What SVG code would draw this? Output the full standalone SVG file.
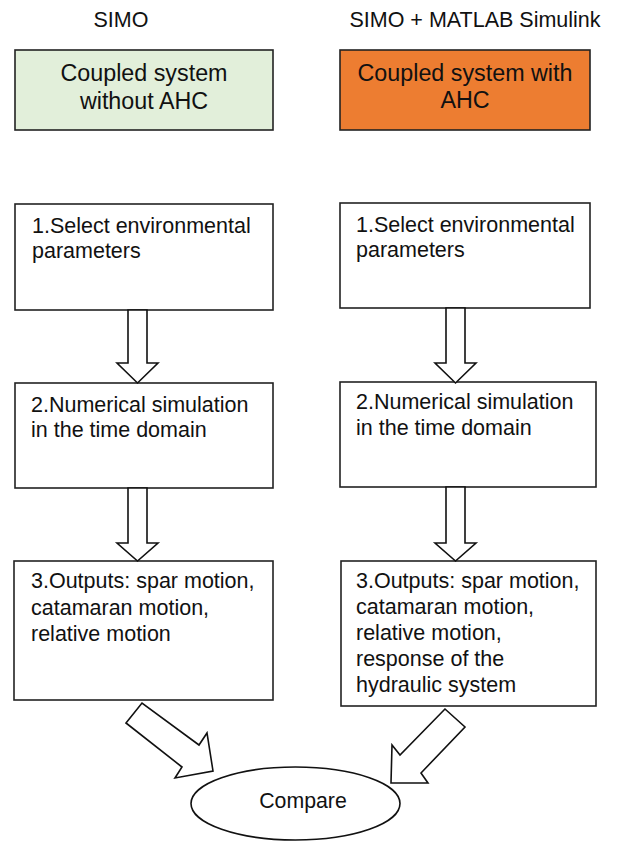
<svg xmlns="http://www.w3.org/2000/svg" width="624" height="842" viewBox="0 0 624 842">
<style>
text{font-family:"Liberation Sans",Arial,sans-serif;fill:#111;}
.hd{font-size:21.5px;text-anchor:middle;}
.ht{font-size:23.3px;text-anchor:middle;}
.bt{font-size:21.5px;}
.box{fill:#fff;stroke:#222;stroke-width:1.6;}
.arr{fill:#fff;stroke:#111;stroke-width:1.6;stroke-linejoin:miter;}
</style>
<rect width="624" height="842" fill="#fff"/>
<text class="hd" x="121" y="27">SIMO</text>
<text class="hd" x="475" y="27">SIMO + MATLAB Simulink</text>
<g id="hdr-left">
<rect x="15" y="50" width="258" height="80" fill="#E2EFDA" stroke="#222" stroke-width="1.6"/>
<text class="ht" x="144" y="81">Coupled system</text>
<text class="ht" x="144" y="109">without AHC</text>
</g>
<g id="hdr-right">
<rect x="340" y="50" width="250" height="80" fill="#ED7D31" stroke="#222" stroke-width="1.6"/>
<text class="ht" x="465" y="81">Coupled system with</text>
<text class="ht" x="465" y="108">AHC</text>
</g>
<g id="l1">
<rect class="box" x="15" y="204" width="258" height="106"/>
<text class="bt" x="32" y="233">1.Select environmental</text>
<text class="bt" x="32" y="258">parameters</text>
</g>
<g id="r1">
<rect class="box" x="340" y="203" width="250" height="105"/>
<text class="bt" x="356" y="232">1.Select environmental</text>
<text class="bt" x="356" y="257">parameters</text>
</g>
<g id="l2">
<rect class="box" x="15" y="383" width="258" height="105"/>
<text class="bt" x="31" y="412">2.Numerical simulation</text>
<text class="bt" x="31" y="437">in the time domain</text>
</g>
<g id="r2">
<rect class="box" x="340" y="382" width="256" height="105"/>
<text class="bt" x="356" y="409">2.Numerical simulation</text>
<text class="bt" x="356" y="435">in the time domain</text>
</g>
<g id="l3">
<rect class="box" x="14" y="561" width="259" height="139"/>
<text class="bt" x="31" y="588">3.Outputs: spar motion,</text>
<text class="bt" x="31" y="615">catamaran motion,</text>
<text class="bt" x="31" y="641">relative motion</text>
</g>
<g id="r3">
<rect class="box" x="341" y="561" width="255" height="145"/>
<text class="bt" x="356" y="588">3.Outputs: spar motion,</text>
<text class="bt" x="356" y="614">catamaran motion,</text>
<text class="bt" x="356" y="640">relative motion,</text>
<text class="bt" x="356" y="666">response of the</text>
<text class="bt" x="356" y="692">hydraulic system</text>
</g>
<g id="compare">
<ellipse cx="295.5" cy="803.5" rx="104.5" ry="36.5" fill="#fff" stroke="#111" stroke-width="1.6"/>
<text x="303" y="808" style="font-size:21.3px;text-anchor:middle">Compare</text>
</g>
<g id="connectors">
<polygon class="arr" points="128,310 128,363 117,363 137.5,383 158,363 147,363 147,310"/>
<polygon class="arr" points="128,488 128,543 117,543 137.5,561 158,543 147,543 147,488"/>
<polygon class="arr" points="446,308 446,363 435,363 455.5,383 476,363 465,363 465,308"/>
<polygon class="arr" points="446,487 446,543 435,543 455.5,561 476,543 465,543 465,487"/>
<polygon class="arr" points="126,723 142,703 199,745 207,733 213,771 175,778 182,767"/>
<polygon class="arr" points="445,709 400,755 392,745 391,783 428,783 421,773 465,727"/>
</g>
</svg>
